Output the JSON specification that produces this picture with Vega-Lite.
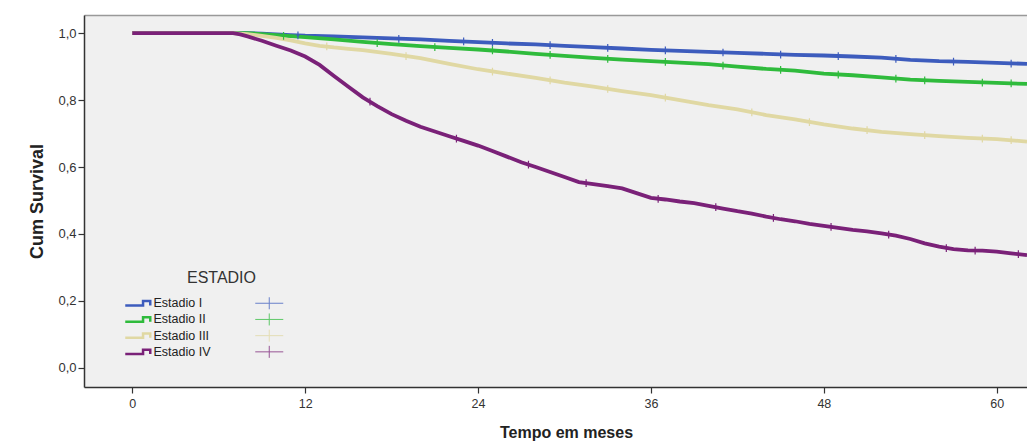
{
"$schema":"https://vega.github.io/schema/vega-lite/v6.json",
"width":943,"height":372,
"autosize":{"type":"none"},
"padding":{"left":84,"top":15,"right":0,"bottom":55},
"background":"white",
"config":{"view":{"fill":"#f0f0f0","stroke":null},"font":"Arial, Liberation Sans, sans-serif"},
"datasets":{
"curves":[
{"Estadio":"Estadio I","mes":0,"sobrevida":1},{"Estadio":"Estadio I","mes":8,"sobrevida":1},{"Estadio":"Estadio I","mes":9,"sobrevida":0.998},{"Estadio":"Estadio I","mes":10,"sobrevida":0.996},{"Estadio":"Estadio I","mes":11,"sobrevida":0.994},{"Estadio":"Estadio I","mes":12,"sobrevida":0.992},{"Estadio":"Estadio I","mes":14,"sobrevida":0.99},{"Estadio":"Estadio I","mes":16,"sobrevida":0.987},{"Estadio":"Estadio I","mes":18,"sobrevida":0.984},{"Estadio":"Estadio I","mes":20,"sobrevida":0.981},{"Estadio":"Estadio I","mes":22,"sobrevida":0.977},{"Estadio":"Estadio I","mes":24,"sobrevida":0.973},{"Estadio":"Estadio I","mes":26,"sobrevida":0.969},{"Estadio":"Estadio I","mes":28,"sobrevida":0.966},{"Estadio":"Estadio I","mes":30,"sobrevida":0.962},{"Estadio":"Estadio I","mes":32,"sobrevida":0.958},{"Estadio":"Estadio I","mes":34,"sobrevida":0.954},{"Estadio":"Estadio I","mes":36,"sobrevida":0.95},{"Estadio":"Estadio I","mes":38,"sobrevida":0.947},{"Estadio":"Estadio I","mes":40,"sobrevida":0.944},{"Estadio":"Estadio I","mes":42,"sobrevida":0.941},{"Estadio":"Estadio I","mes":44,"sobrevida":0.938},{"Estadio":"Estadio I","mes":46,"sobrevida":0.935},{"Estadio":"Estadio I","mes":48,"sobrevida":0.933},{"Estadio":"Estadio I","mes":50,"sobrevida":0.93},{"Estadio":"Estadio I","mes":52,"sobrevida":0.927},{"Estadio":"Estadio I","mes":54,"sobrevida":0.92},{"Estadio":"Estadio I","mes":56,"sobrevida":0.916},{"Estadio":"Estadio I","mes":58,"sobrevida":0.914},{"Estadio":"Estadio I","mes":60,"sobrevida":0.911},{"Estadio":"Estadio I","mes":62.1,"sobrevida":0.908},
{"Estadio":"Estadio II","mes":0,"sobrevida":1},{"Estadio":"Estadio II","mes":8,"sobrevida":1},{"Estadio":"Estadio II","mes":9,"sobrevida":0.997},{"Estadio":"Estadio II","mes":10,"sobrevida":0.994},{"Estadio":"Estadio II","mes":11,"sobrevida":0.991},{"Estadio":"Estadio II","mes":12,"sobrevida":0.988},{"Estadio":"Estadio II","mes":14,"sobrevida":0.981},{"Estadio":"Estadio II","mes":16,"sobrevida":0.974},{"Estadio":"Estadio II","mes":18,"sobrevida":0.967},{"Estadio":"Estadio II","mes":20,"sobrevida":0.961},{"Estadio":"Estadio II","mes":22,"sobrevida":0.956},{"Estadio":"Estadio II","mes":24,"sobrevida":0.951},{"Estadio":"Estadio II","mes":26,"sobrevida":0.945},{"Estadio":"Estadio II","mes":28,"sobrevida":0.938},{"Estadio":"Estadio II","mes":30,"sobrevida":0.932},{"Estadio":"Estadio II","mes":32,"sobrevida":0.926},{"Estadio":"Estadio II","mes":34,"sobrevida":0.921},{"Estadio":"Estadio II","mes":36,"sobrevida":0.916},{"Estadio":"Estadio II","mes":38,"sobrevida":0.912},{"Estadio":"Estadio II","mes":40,"sobrevida":0.907},{"Estadio":"Estadio II","mes":42,"sobrevida":0.9},{"Estadio":"Estadio II","mes":44,"sobrevida":0.893},{"Estadio":"Estadio II","mes":46,"sobrevida":0.888},{"Estadio":"Estadio II","mes":48,"sobrevida":0.879},{"Estadio":"Estadio II","mes":50,"sobrevida":0.874},{"Estadio":"Estadio II","mes":52,"sobrevida":0.868},{"Estadio":"Estadio II","mes":54,"sobrevida":0.861},{"Estadio":"Estadio II","mes":56,"sobrevida":0.857},{"Estadio":"Estadio II","mes":58,"sobrevida":0.854},{"Estadio":"Estadio II","mes":60,"sobrevida":0.851},{"Estadio":"Estadio II","mes":62.1,"sobrevida":0.848},
{"Estadio":"Estadio III","mes":0,"sobrevida":1},{"Estadio":"Estadio III","mes":7,"sobrevida":1},{"Estadio":"Estadio III","mes":8,"sobrevida":0.997},{"Estadio":"Estadio III","mes":9,"sobrevida":0.992},{"Estadio":"Estadio III","mes":10,"sobrevida":0.986},{"Estadio":"Estadio III","mes":11,"sobrevida":0.978},{"Estadio":"Estadio III","mes":12,"sobrevida":0.969},{"Estadio":"Estadio III","mes":13,"sobrevida":0.962},{"Estadio":"Estadio III","mes":14,"sobrevida":0.957},{"Estadio":"Estadio III","mes":15,"sobrevida":0.953},{"Estadio":"Estadio III","mes":16,"sobrevida":0.949},{"Estadio":"Estadio III","mes":18,"sobrevida":0.938},{"Estadio":"Estadio III","mes":20,"sobrevida":0.925},{"Estadio":"Estadio III","mes":22,"sobrevida":0.908},{"Estadio":"Estadio III","mes":24,"sobrevida":0.892},{"Estadio":"Estadio III","mes":26,"sobrevida":0.879},{"Estadio":"Estadio III","mes":28,"sobrevida":0.866},{"Estadio":"Estadio III","mes":30,"sobrevida":0.852},{"Estadio":"Estadio III","mes":32,"sobrevida":0.84},{"Estadio":"Estadio III","mes":34,"sobrevida":0.827},{"Estadio":"Estadio III","mes":36,"sobrevida":0.815},{"Estadio":"Estadio III","mes":38,"sobrevida":0.8},{"Estadio":"Estadio III","mes":40,"sobrevida":0.785},{"Estadio":"Estadio III","mes":42,"sobrevida":0.772},{"Estadio":"Estadio III","mes":44,"sobrevida":0.755},{"Estadio":"Estadio III","mes":46,"sobrevida":0.742},{"Estadio":"Estadio III","mes":48,"sobrevida":0.727},{"Estadio":"Estadio III","mes":50,"sobrevida":0.715},{"Estadio":"Estadio III","mes":52,"sobrevida":0.705},{"Estadio":"Estadio III","mes":54,"sobrevida":0.698},{"Estadio":"Estadio III","mes":56,"sobrevida":0.692},{"Estadio":"Estadio III","mes":58,"sobrevida":0.687},{"Estadio":"Estadio III","mes":60,"sobrevida":0.683},{"Estadio":"Estadio III","mes":62.1,"sobrevida":0.676},
{"Estadio":"Estadio IV","mes":0,"sobrevida":1},{"Estadio":"Estadio IV","mes":7,"sobrevida":1},{"Estadio":"Estadio IV","mes":7.5,"sobrevida":0.996},{"Estadio":"Estadio IV","mes":8,"sobrevida":0.99},{"Estadio":"Estadio IV","mes":9,"sobrevida":0.977},{"Estadio":"Estadio IV","mes":10,"sobrevida":0.962},{"Estadio":"Estadio IV","mes":11,"sobrevida":0.948},{"Estadio":"Estadio IV","mes":12,"sobrevida":0.93},{"Estadio":"Estadio IV","mes":13,"sobrevida":0.905},{"Estadio":"Estadio IV","mes":14,"sobrevida":0.872},{"Estadio":"Estadio IV","mes":15,"sobrevida":0.84},{"Estadio":"Estadio IV","mes":16,"sobrevida":0.808},{"Estadio":"Estadio IV","mes":17,"sobrevida":0.782},{"Estadio":"Estadio IV","mes":18,"sobrevida":0.758},{"Estadio":"Estadio IV","mes":19,"sobrevida":0.738},{"Estadio":"Estadio IV","mes":20,"sobrevida":0.72},{"Estadio":"Estadio IV","mes":21,"sobrevida":0.706},{"Estadio":"Estadio IV","mes":22,"sobrevida":0.692},{"Estadio":"Estadio IV","mes":23,"sobrevida":0.678},{"Estadio":"Estadio IV","mes":24,"sobrevida":0.664},{"Estadio":"Estadio IV","mes":25,"sobrevida":0.648},{"Estadio":"Estadio IV","mes":26,"sobrevida":0.631},{"Estadio":"Estadio IV","mes":27,"sobrevida":0.614},{"Estadio":"Estadio IV","mes":28,"sobrevida":0.6},{"Estadio":"Estadio IV","mes":29,"sobrevida":0.585},{"Estadio":"Estadio IV","mes":30,"sobrevida":0.57},{"Estadio":"Estadio IV","mes":31,"sobrevida":0.555},{"Estadio":"Estadio IV","mes":32,"sobrevida":0.549},{"Estadio":"Estadio IV","mes":33,"sobrevida":0.543},{"Estadio":"Estadio IV","mes":34,"sobrevida":0.536},{"Estadio":"Estadio IV","mes":35,"sobrevida":0.522},{"Estadio":"Estadio IV","mes":36,"sobrevida":0.508},{"Estadio":"Estadio IV","mes":37,"sobrevida":0.503},{"Estadio":"Estadio IV","mes":38,"sobrevida":0.497},{"Estadio":"Estadio IV","mes":39,"sobrevida":0.492},{"Estadio":"Estadio IV","mes":40,"sobrevida":0.484},{"Estadio":"Estadio IV","mes":41,"sobrevida":0.476},{"Estadio":"Estadio IV","mes":42,"sobrevida":0.468},{"Estadio":"Estadio IV","mes":43,"sobrevida":0.461},{"Estadio":"Estadio IV","mes":44,"sobrevida":0.452},{"Estadio":"Estadio IV","mes":45,"sobrevida":0.444},{"Estadio":"Estadio IV","mes":46,"sobrevida":0.438},{"Estadio":"Estadio IV","mes":47,"sobrevida":0.43},{"Estadio":"Estadio IV","mes":48,"sobrevida":0.424},{"Estadio":"Estadio IV","mes":49,"sobrevida":0.418},{"Estadio":"Estadio IV","mes":50,"sobrevida":0.412},{"Estadio":"Estadio IV","mes":51,"sobrevida":0.408},{"Estadio":"Estadio IV","mes":52,"sobrevida":0.402},{"Estadio":"Estadio IV","mes":53,"sobrevida":0.395},{"Estadio":"Estadio IV","mes":54,"sobrevida":0.385},{"Estadio":"Estadio IV","mes":55,"sobrevida":0.372},{"Estadio":"Estadio IV","mes":56,"sobrevida":0.362},{"Estadio":"Estadio IV","mes":57,"sobrevida":0.355},{"Estadio":"Estadio IV","mes":58,"sobrevida":0.351},{"Estadio":"Estadio IV","mes":59,"sobrevida":0.35},{"Estadio":"Estadio IV","mes":60,"sobrevida":0.347},{"Estadio":"Estadio IV","mes":61,"sobrevida":0.342},{"Estadio":"Estadio IV","mes":62.1,"sobrevida":0.337}
],
"censor":[
{"Grupo":"I","mes":11.5,"sobrevida":0.993},{"Grupo":"I","mes":18.5,"sobrevida":0.983},{"Grupo":"I","mes":23,"sobrevida":0.975},{"Grupo":"I","mes":25,"sobrevida":0.971},{"Grupo":"I","mes":29,"sobrevida":0.964},{"Grupo":"I","mes":33,"sobrevida":0.956},{"Grupo":"I","mes":37,"sobrevida":0.948},{"Grupo":"I","mes":41,"sobrevida":0.942},{"Grupo":"I","mes":45,"sobrevida":0.936},{"Grupo":"I","mes":49,"sobrevida":0.931},{"Grupo":"I","mes":53,"sobrevida":0.923},{"Grupo":"I","mes":57,"sobrevida":0.915},{"Grupo":"I","mes":61,"sobrevida":0.909},
{"Grupo":"II","mes":10.5,"sobrevida":0.992},{"Grupo":"II","mes":17,"sobrevida":0.97},{"Grupo":"II","mes":21,"sobrevida":0.958},{"Grupo":"II","mes":25,"sobrevida":0.948},{"Grupo":"II","mes":29,"sobrevida":0.935},{"Grupo":"II","mes":33,"sobrevida":0.923},{"Grupo":"II","mes":37,"sobrevida":0.914},{"Grupo":"II","mes":41,"sobrevida":0.903},{"Grupo":"II","mes":45,"sobrevida":0.89},{"Grupo":"II","mes":49,"sobrevida":0.876},{"Grupo":"II","mes":53,"sobrevida":0.864},{"Grupo":"II","mes":55,"sobrevida":0.859},{"Grupo":"II","mes":59,"sobrevida":0.852},{"Grupo":"II","mes":61,"sobrevida":0.85},
{"Grupo":"III","mes":13.5,"sobrevida":0.96},{"Grupo":"III","mes":19,"sobrevida":0.931},{"Grupo":"III","mes":25,"sobrevida":0.885},{"Grupo":"III","mes":29,"sobrevida":0.859},{"Grupo":"III","mes":33,"sobrevida":0.833},{"Grupo":"III","mes":37,"sobrevida":0.807},{"Grupo":"III","mes":43,"sobrevida":0.763},{"Grupo":"III","mes":47,"sobrevida":0.734},{"Grupo":"III","mes":51,"sobrevida":0.71},{"Grupo":"III","mes":55,"sobrevida":0.695},{"Grupo":"III","mes":59,"sobrevida":0.685},{"Grupo":"III","mes":61,"sobrevida":0.68},
{"Grupo":"IV","mes":16.5,"sobrevida":0.795},{"Grupo":"IV","mes":22.5,"sobrevida":0.685},{"Grupo":"IV","mes":27.5,"sobrevida":0.607},{"Grupo":"IV","mes":31.5,"sobrevida":0.552},{"Grupo":"IV","mes":36.5,"sobrevida":0.505},{"Grupo":"IV","mes":40.5,"sobrevida":0.48},{"Grupo":"IV","mes":44.5,"sobrevida":0.448},{"Grupo":"IV","mes":48.5,"sobrevida":0.421},{"Grupo":"IV","mes":52.5,"sobrevida":0.398},{"Grupo":"IV","mes":56.5,"sobrevida":0.358},{"Grupo":"IV","mes":58.5,"sobrevida":0.35},{"Grupo":"IV","mes":61.5,"sobrevida":0.34}
]
},
"layer":[
{
"data":{"name":"curves"},
"mark":{"type":"line","strokeWidth":3.8,"clip":true,"interpolate":"linear"},
"encoding":{
"x":{"field":"mes","type":"quantitative","scale":{"domain":[-3.35,62.1],"nice":false,"zero":false},
 "axis":{"orient":"bottom","values":[0,12,24,36,48,60],"format":"d","grid":false,"tickSize":6,"tickColor":"#333","tickWidth":1.2,"domainColor":"#333","domainWidth":1.5,"labelFontSize":12.5,"labelColor":"#333","labelPadding":4,"title":"Tempo em meses","titleFontSize":16,"titleFontWeight":"bold","titleColor":"#222","titleX":482,"titleY":37,"titleAlign":"center","titleBaseline":"top"}},
"y":{"field":"sobrevida","type":"quantitative","scale":{"domain":[-0.057,1.054],"nice":false,"zero":false},
 "axis":{"values":[0,0.2,0.4,0.6,0.8,1],"labelExpr":"replace(format(datum.value,'.1f'),'.',',')","grid":false,"tickSize":6,"tickColor":"#333","tickWidth":1.2,"domainColor":"#333","domainWidth":1.5,"labelFontSize":13,"labelColor":"#333","labelPadding":2,"title":"Cum Survival","titleFontSize":18,"titleFontWeight":"bold","titleColor":"#222","titlePadding":11}},
"color":{"field":"Estadio","type":"nominal","scale":{"domain":["Estadio I","Estadio II","Estadio III","Estadio IV"],"range":["#3d5cbd","#2fbb3c","#e0d8a3","#7a2178"]},
 "legend":{"orient":"none","legendX":60,"legendY":258,"padding":0,"title":"\u00a0","titleFontSize":16,"titleFontWeight":"normal","titlePadding":8,"labelFontSize":12.5,"labelColor":"#222","labelOffset":-3,"symbolType":"M-12.5,1.1H-3.6V-1.1H0V1.1","symbolSize":16,"symbolStrokeWidth":2.5,"rowPadding":1.2}}
}
},
{
"data":{"name":"censor"},
"mark":{"type":"point","shape":"M0,-1V1M-0.35,0H0.35","size":60,"strokeWidth":1.2,"filled":false,"opacity":1,"clip":true},
"encoding":{
"x":{"field":"mes","type":"quantitative","axis":{"orient":"top","labels":false,"ticks":false,"title":null,"grid":false,"domainColor":"#999","domainWidth":1.5}},
"y":{"field":"sobrevida","type":"quantitative"},
"stroke":{"field":"Grupo","type":"nominal","scale":{"domain":["I","II","III","IV"],"range":["#3d5cbd","#2fbb3c","#e0d8a3","#7a2178"]},
 "legend":{"orient":"none","legendX":103,"legendY":255,"padding":0,"title":"ESTADIO","titleFontSize":16,"titleFontWeight":"normal","titleColor":"#333","titleAnchor":"start","titleAlign":"right","titlePadding":11,"labelExpr":"''","labelFontSize":12.5,"symbolType":"M-3.5,0H10.5M3.5,-3V3","symbolSize":16,"symbolStrokeWidth":1,"symbolOpacity":0.75,"rowPadding":-0.8}}
}
}
],
"resolve":{"axis":{"x":"independent"}}
}
